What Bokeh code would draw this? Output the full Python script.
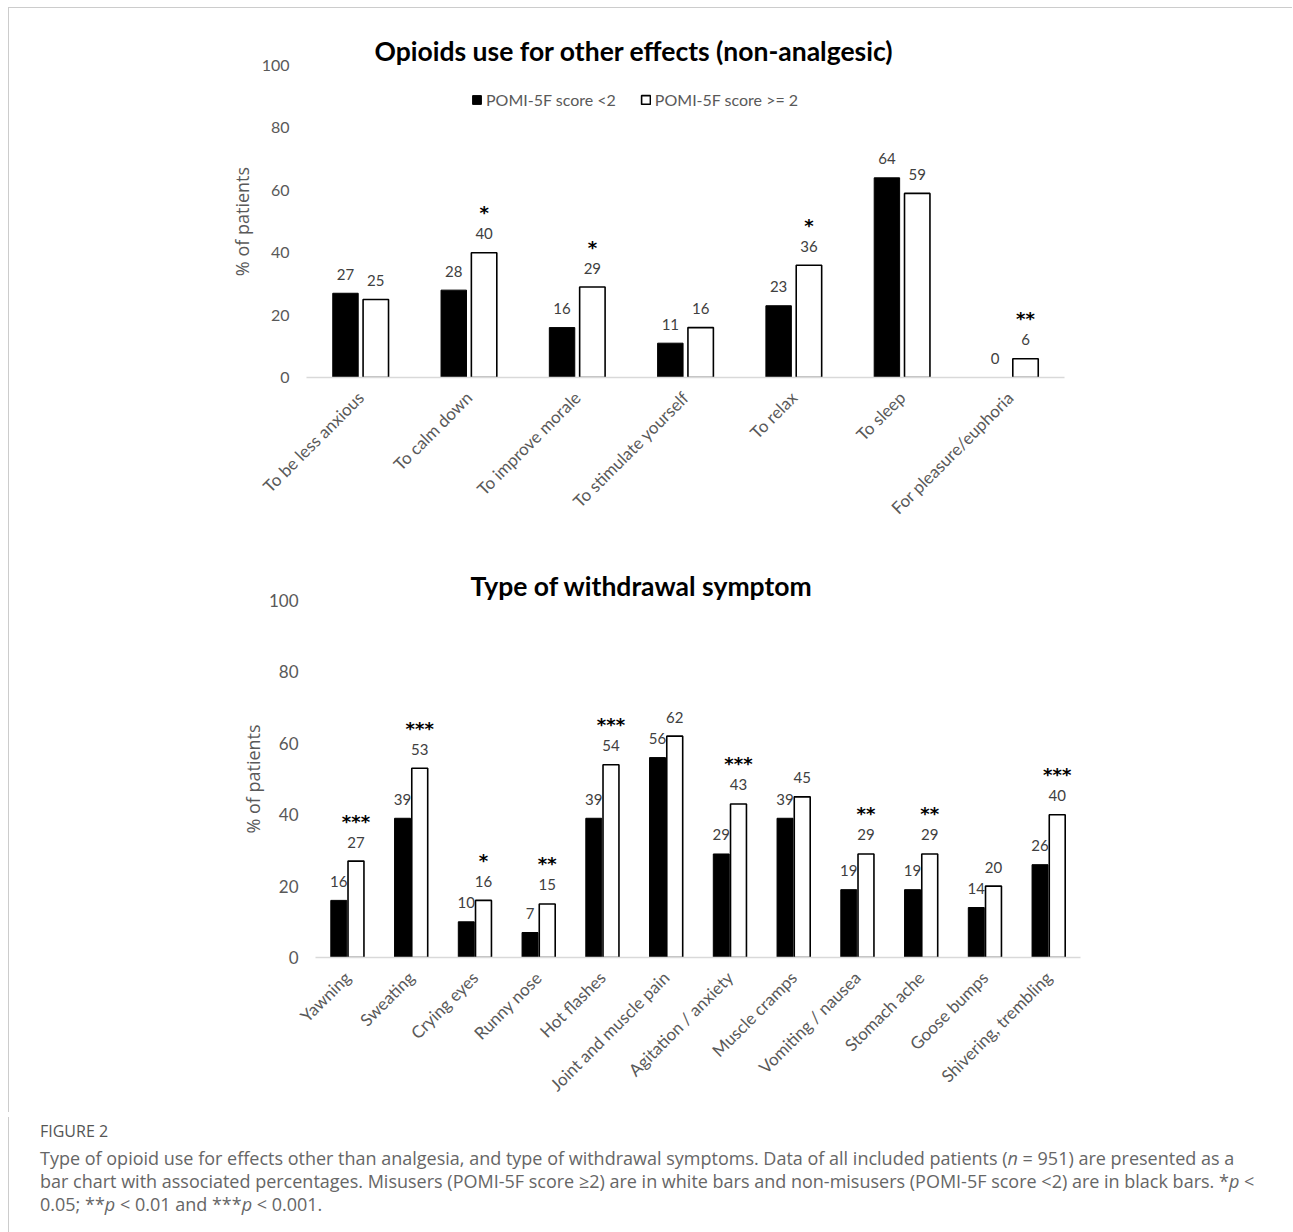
from math import pi
from bokeh.plotting import figure
from bokeh.models import (ColumnDataSource, FactorRange, LabelSet, Legend, LegendItem,
                          Title, Div, FixedTicker)
from bokeh.transform import dodge
from bokeh.core.properties import value
from bokeh.embed import file_html
from bokeh.resources import INLINE

# ---------------- data ----------------
effect_categories = ["To be less anxious", "To calm down", "To improve morale",
                     "To stimulate yourself", "To relax", "To sleep", "For pleasure/euphoria"]
effect_low = [27, 28, 16, 11, 23, 64, 0]       # POMI-5F score <2 (black)
effect_high = [25, 40, 29, 16, 36, 59, 6]      # POMI-5F score >= 2 (white)
effect_stars = ["", "*", "*", "", "*", "", "**"]

symptom_categories = ["Yawning", "Sweating", "Crying eyes", "Runny nose", "Hot flashes",
                      "Joint and muscle pain", "Agitation / anxiety", "Muscle cramps",
                      "Vomiting / nausea", "Stomach ache", "Goose bumps", "Shivering, trembling"]
symptom_low = [16, 39, 10, 7, 39, 56, 29, 39, 19, 19, 14, 26]
symptom_high = [27, 53, 16, 15, 54, 62, 43, 45, 29, 29, 20, 40]
symptom_stars = ["***", "***", "*", "**", "***", "", "***", "", "**", "**", "", "***"]

y_ticks = [0, 20, 40, 60, 80, 100]
legend_labels = ["POMI-5F score <2", "POMI-5F score >= 2"]

FONT = "Lato"
GRAY = "#595959"
BORDER = "1px solid #cccccc"


def make_chart(title, cats, low, high, stars, frame, borders, bar_w, off,
               title_off, with_legend=False, xfont="17px", tickfont="16px",
               ylab_standoff=5):
    fw, fh = frame
    left, right, top, bottom = borders
    src = ColumnDataSource(dict(cat=cats, low=low, high=high, stars=stars,
                                low_lbl=[str(v) for v in low],
                                high_lbl=[str(v) for v in high]))
    p = figure(x_range=FactorRange(*cats), y_range=(0, 100),
               frame_width=fw, frame_height=fh,
               output_backend="svg", toolbar_location=None,
               min_border_left=left, min_border_right=right,
               min_border_top=top, min_border_bottom=bottom)
    p.outline_line_color = None
    p.grid.grid_line_color = None
    p.background_fill_color = "white"
    p.border_fill_color = "white"

    r_low = p.vbar(x=dodge("cat", -off, range=p.x_range), top="low", width=bar_w,
                   source=src, fill_color="black", line_color="black", line_width=1)
    r_high = p.vbar(x=dodge("cat", off, range=p.x_range), top="high", width=bar_w,
                    source=src, fill_color="white", line_color="black", line_width=1.6)

    for xo, fld, ytop in ((-off, "low_lbl", "low"), (off, "high_lbl", "high")):
        p.add_layout(LabelSet(x=dodge("cat", xo, range=p.x_range), y=ytop, text=fld,
                              source=src, y_offset=19, text_align="center",
                              text_baseline="middle", text_font=value(FONT),
                              text_font_size="15px", text_color="#404040"))
    p.add_layout(LabelSet(x=dodge("cat", off, range=p.x_range), y="high", text="stars",
                          source=src, y_offset=40, text_align="center",
                          text_baseline="middle", text_font=value("DejaVu Sans"),
                          text_font_size="18px", text_font_style="bold",
                          text_color="black"))

    # axes
    p.yaxis.ticker = FixedTicker(ticks=y_ticks)
    p.yaxis.axis_line_color = None
    p.yaxis.major_tick_line_color = None
    p.yaxis.minor_tick_line_color = None
    p.yaxis.major_tick_in = 0
    p.yaxis.major_tick_out = 0
    p.yaxis.major_label_standoff = 17
    p.yaxis.major_label_text_font = FONT
    p.yaxis.major_label_text_font_size = tickfont
    p.yaxis.major_label_text_color = GRAY
    p.yaxis.axis_label = "% of patients"
    p.yaxis.axis_label_text_font = "Open Sans"
    p.yaxis.axis_label_text_font_style = "normal"
    p.yaxis.axis_label_text_font_size = "18px"
    p.yaxis.axis_label_text_color = GRAY
    p.yaxis.axis_label_standoff = ylab_standoff

    p.xaxis.axis_line_color = "#d9d9d9"
    p.xaxis.axis_line_width = 1.5
    p.xaxis.major_tick_line_color = None
    p.xaxis.minor_tick_line_color = None
    p.xaxis.major_tick_in = 0
    p.xaxis.major_tick_out = 0
    p.xaxis.major_label_orientation = pi / 4
    p.xaxis.major_label_standoff = 17
    p.xaxis.major_label_text_font = FONT
    p.xaxis.major_label_text_font_size = xfont
    p.xaxis.major_label_text_color = GRAY

    p.title = Title(text=title, align="left", offset=title_off, standoff=-3,
                    text_font=FONT, text_font_size="26.5px", text_font_style="bold",
                    text_color="black")

    if with_legend:
        leg = Legend(items=[LegendItem(label=legend_labels[0], renderers=[r_low]),
                            LegendItem(label=legend_labels[1], renderers=[r_high])],
                     orientation="horizontal", location=(165, 268),
                     glyph_width=11, glyph_height=11, label_standoff=4, spacing=24,
                     padding=0, margin=0, border_line_alpha=0, background_fill_alpha=0,
                     label_text_font=FONT, label_text_font_size="16px",
                     label_text_color=GRAY, label_height=14)
        p.add_layout(leg)
    return p


p1 = make_chart("Opioids use for other effects (non-analgesic)", effect_categories,
                effect_low, effect_high, effect_stars, frame=(758, 312),
                borders=(297, 228, 57, 183), bar_w=0.235, off=0.14, title_off=68,
                with_legend=True, ylab_standoff=5)
p2 = make_chart("Type of withdrawal symptom", symptom_categories, symptom_low,
                symptom_high, symptom_stars, frame=(765, 357),
                borders=(306, 205, 40, 155), bar_w=0.25, off=0.135, title_off=155,
                tickfont="17px", ylab_standoff=1)

p1.styles = {"margin-left": "8px", "margin-top": "7px",
             "border-top": BORDER, "border-left": BORDER}
p2.styles = {"margin-left": "8px", "border-left": BORDER}

caption = Div(text=(
    '<div style="font-family:\'Open Sans\',sans-serif;color:#666;padding-left:31px;'
    'border-left:1px solid #cccccc;height:118px;box-sizing:border-box;">'
    '<div style="font-size:16px;line-height:20px;padding-top:4px;color:#555;">FIGURE 2</div>'
    '<div style="font-size:18px;line-height:23px;margin-top:6px;">'
    'Type of opioid use for effects other than analgesia, and type of withdrawal symptoms. '
    'Data of all included patients (<i>n</i> = 951) are presented as a<br>'
    'bar chart with associated percentages. Misusers (POMI-5F score &ge;2) are in white bars '
    'and non-misusers (POMI-5F score &lt;2) are in black bars. *<i>p</i> &lt;<br>'
    '0.05; **<i>p</i> &lt; 0.01 and ***<i>p</i> &lt; 0.001.</div></div>'),
    width=1276, height=118, styles={"margin-left": "8px"})

open("out.html", "w").write(file_html([p1, p2, caption], INLINE))
